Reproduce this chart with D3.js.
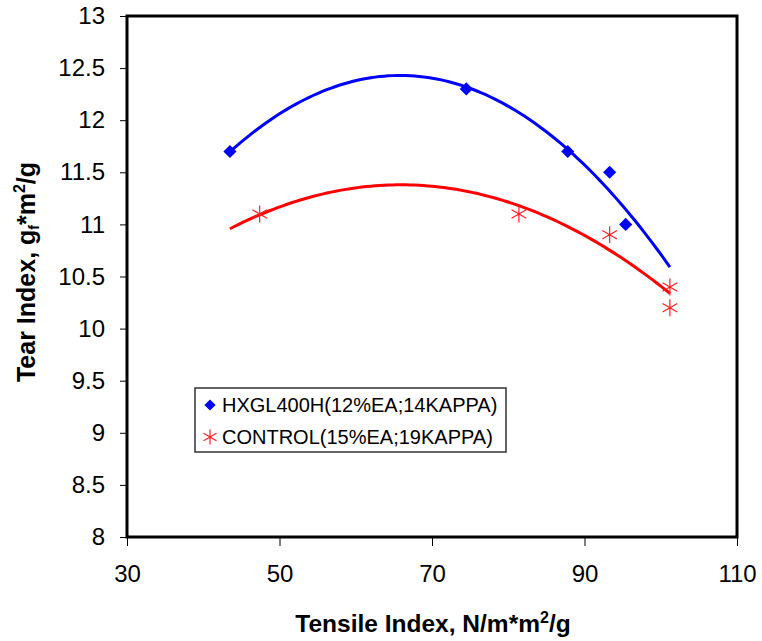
<!DOCTYPE html>
<html>
<head>
<meta charset="utf-8">
<script src="https://cdn.jsdelivr.net/npm/d3@7"></script>
<style>
  body { margin: 0; background: #fff; }
  svg { font-family: "Liberation Sans", Arial, sans-serif; }
</style>
</head>
<body>
<svg id="chart"></svg>
<script>
// data
var hxglX = [43.5, 74.5, 87.8, 93.3, 95.4];
var hxglY = [11.7, 12.3, 11.7, 11.5, 11.0];
var controlX = [47.4, 81.4, 93.3, 101.2, 101.2];
var controlY = [11.1, 11.1, 10.9, 10.4, 10.2];
var xTicks = [30, 50, 70, 90, 110];
var yTicks = [8, 8.5, 9, 9.5, 10, 10.5, 11, 11.5, 12, 12.5, 13];
var seriesNames = ["HXGL400H(12%EA;14KAPPA)", "CONTROL(15%EA;19KAPPA)"];

var width = 762,
    height = 641,
    margin = {left: 127, right: 25, top: 16, bottom: 104};

var svg = d3.select("#chart").attr("width", width).attr("height", height);

var x = d3.scaleLinear().domain([30, 110]).range([margin.left, width - margin.right]);
var y = d3.scaleLinear().domain([8, 13]).range([height - margin.bottom, margin.top]);

// least squares 2nd order polynomial, like the spreadsheet trendline
function polyFit(xs, ys) {
    var n = xs.length, s = [0, 0, 0, 0, 0], t = [0, 0, 0];
    for (var i = 0; i < n; i++) {
        for (var k = 0; k < 5; k++) s[k] += Math.pow(xs[i], k);
        for (var k = 0; k < 3; k++) t[k] += ys[i] * Math.pow(xs[i], k);
    }
    var m = [[s[0], s[1], s[2], t[0]], [s[1], s[2], s[3], t[1]], [s[2], s[3], s[4], t[2]]];
    for (var c = 0; c < 3; c++) {
        for (var r = c + 1; r < 3; r++) {
            var f = m[r][c] / m[c][c];
            for (var j = c; j < 4; j++) m[r][j] -= f * m[c][j];
        }
    }
    var b = [0, 0, 0];
    for (var r = 2; r >= 0; r--) {
        var v = m[r][3];
        for (var j = r + 1; j < 3; j++) v -= m[r][j] * b[j];
        b[r] = v / m[r][r];
    }
    return function(xv) { return b[0] + b[1] * xv + b[2] * xv * xv; };
}

var allX = hxglX.concat(controlX);
var xr = d3.extent(allX);
var steps = d3.range(0, 101).map(function(i) { return xr[0] + (xr[1] - xr[0]) * i / 100; });

var line = d3.line().x(function(d) { return x(d[0]); }).y(function(d) { return y(d[1]); });

// axes
var gx = svg.append("g")
    .attr("transform", "translate(0," + (height - margin.bottom) + ")")
    .call(d3.axisBottom(x).tickValues(xTicks).tickSize(9).tickPadding(19));
var gy = svg.append("g")
    .attr("transform", "translate(" + margin.left + ",0)")
    .call(d3.axisLeft(y).tickValues(yTicks).tickFormat(d3.format("")).tickSize(7).tickPadding(15));
[gx, gy].forEach(function(g) {
    g.select(".domain").remove();
    g.selectAll("line").attr("stroke", "#000").attr("stroke-width", 1);
    g.selectAll("text").attr("font-size", 24).attr("fill", "#000")
        .attr("font-family", "Liberation Sans, Arial, sans-serif");
});

// frame
svg.append("rect")
    .attr("x", margin.left).attr("y", margin.top)
    .attr("width", width - margin.left - margin.right)
    .attr("height", height - margin.top - margin.bottom)
    .attr("fill", "none").attr("stroke", "#000").attr("stroke-width", 3);

// trendlines
var fitBlue = polyFit(hxglX, hxglY),
    fitRed = polyFit(controlX, controlY);
svg.append("path")
    .datum(steps.map(function(v) { return [v, fitBlue(v)]; }))
    .attr("d", line).attr("fill", "none").attr("stroke", "#0000ff").attr("stroke-width", 3);
svg.append("path")
    .datum(steps.map(function(v) { return [v, fitRed(v)]; }))
    .attr("d", line).attr("fill", "none").attr("stroke", "#ff0000").attr("stroke-width", 3);

var diamond = d3.symbol().type(d3.symbolDiamond2).size(110);
var starPath = function(r) {
    var a = r * 0.866, b = r * 0.5;
    return "M0," + (-r) + "V" + r +
        "M" + (-a) + "," + (-b) + "L" + a + "," + b +
        "M" + (-a) + "," + b + "L" + a + "," + (-b);
};

svg.append("g").selectAll("path")
    .data(d3.zip(hxglX, hxglY))
    .enter().append("path")
    .attr("d", diamond)
    .attr("transform", function(d) { return "translate(" + x(d[0]) + "," + y(d[1]) + ")"; })
    .attr("fill", "#0000ff");

svg.append("g").selectAll("path")
    .data(d3.zip(controlX, controlY))
    .enter().append("path")
    .attr("d", starPath(8.5))
    .attr("transform", function(d) { return "translate(" + x(d[0]) + "," + y(d[1]) + ")"; })
    .attr("fill", "none").attr("stroke", "#ff2020").attr("stroke-width", 1.2);

// legend
var legend = svg.append("g").attr("transform", "translate(195,388)");
legend.append("rect")
    .attr("width", 311).attr("height", 64)
    .attr("fill", "#fff").attr("stroke", "#333").attr("stroke-width", 1.5);
legend.append("path").attr("d", d3.symbol().type(d3.symbolDiamond2).size(80))
    .attr("transform", "translate(15,17)").attr("fill", "#0000ff");
legend.append("path").attr("d", starPath(7.5))
    .attr("transform", "translate(15,49)")
    .attr("fill", "none").attr("stroke", "#ff2020").attr("stroke-width", 1.2);
legend.selectAll("text.lab")
    .data(seriesNames)
    .enter().append("text")
    .attr("class", "lab")
    .attr("x", 27)
    .attr("y", function(d, i) { return 17 + i * 32; })
    .attr("dy", "0.36em")
    .attr("font-size", 20)
    .text(function(d) { return d; });

// axis titles
var xt = svg.append("text")
    .attr("x", 433)
    .attr("y", 632)
    .attr("text-anchor", "middle")
    .attr("font-size", 24.5).attr("font-weight", "bold");
xt.append("tspan").text("Tensile Index, N/m*m");
xt.append("tspan").attr("dy", -9).attr("font-size", 16).text("2");
xt.append("tspan").attr("dy", 9).text("/g");

var yt = svg.append("text")
    .attr("transform", "translate(35,272) rotate(-90)")
    .attr("text-anchor", "middle")
    .attr("font-size", 25).attr("font-weight", "bold");
yt.append("tspan").text("Tear Index, g");
yt.append("tspan").attr("dy", 4).attr("font-size", 14).text("f");
yt.append("tspan").attr("dy", -4).text("*m");
yt.append("tspan").attr("dy", -10).attr("font-size", 16).text("2");
yt.append("tspan").attr("dy", 10).text("/g");
</script>
</body>
</html>
